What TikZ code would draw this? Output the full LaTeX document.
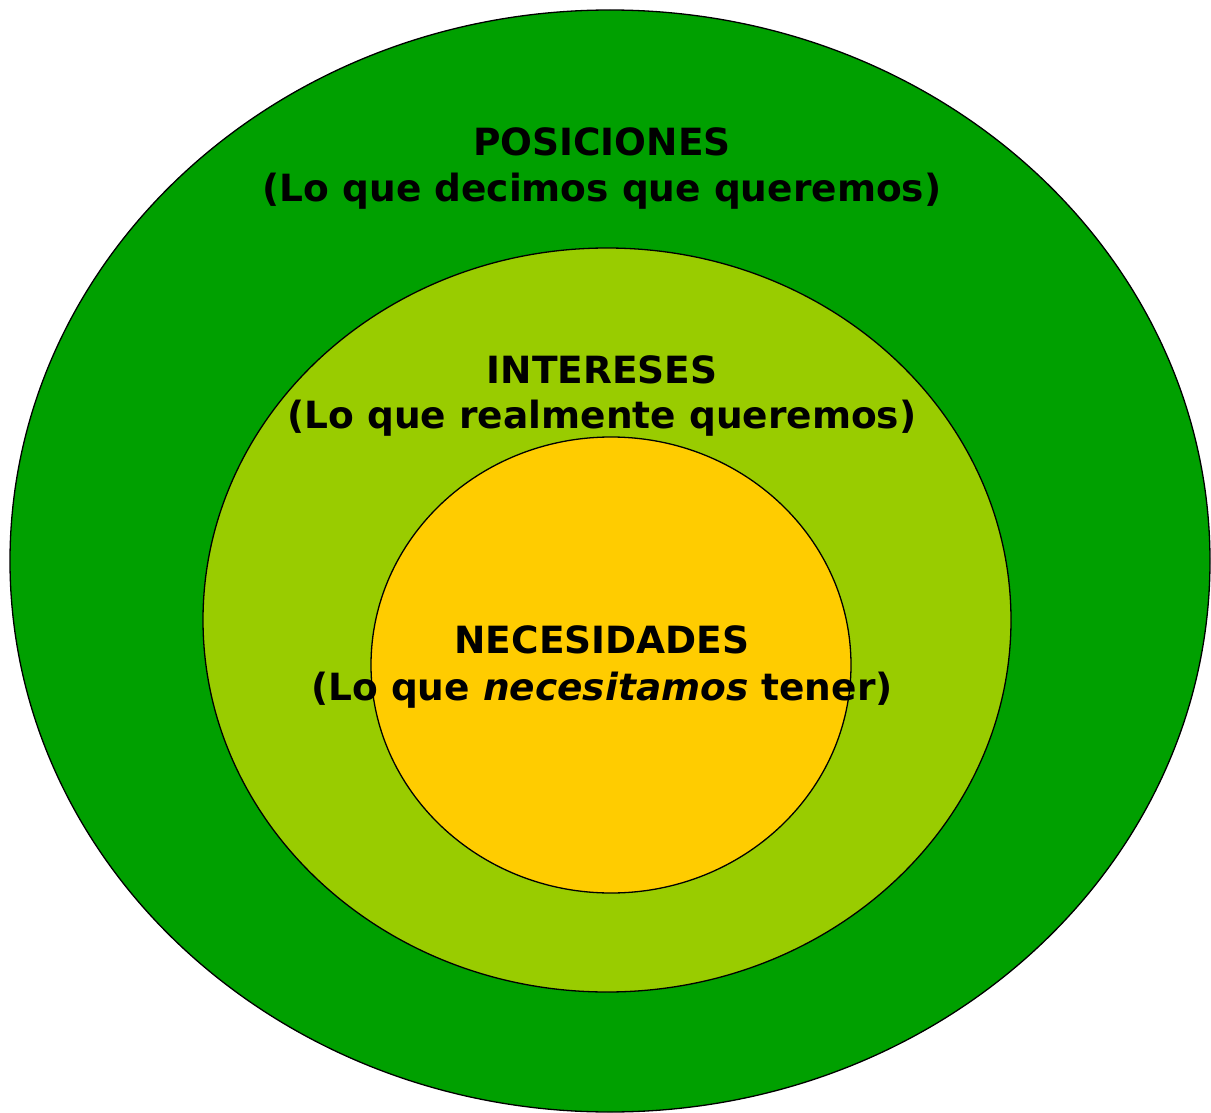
\documentclass[tikz,border=0pt]{standalone}
\usepackage{fontspec}
\setmainfont{DejaVu Sans}
\definecolor{outerg}{HTML}{00A000}
\definecolor{midg}{HTML}{99CC00}
\definecolor{innery}{HTML}{FFCC00}
\begin{document}
\begin{tikzpicture}[x=1pt,y=-1pt,
  lbl/.style={anchor=base,inner sep=0pt,font=\fontsize{37.5}{45}\selectfont\bfseries},
  ring/.style={draw=black,line width=1.3pt}]
\useasboundingbox (0,0) rectangle (1211,1113);
\fill[outerg] (610,561) ellipse [x radius=600,y radius=551];
\draw[ring] (610,561) ellipse [x radius=600,y radius=551];
\fill[midg] (607,620) ellipse [x radius=404,y radius=372];
\draw[ring] (607,620) ellipse [x radius=404,y radius=372];
\fill[innery] (611,665) ellipse [x radius=240,y radius=228];
\node[lbl] (p1) at (602,156) {POSICIONES};
\node[lbl] (p2) at (602,202) {(Lo que decimos que queremos)};
\node[lbl] (i1) at (602,383) {INTERESES};
\node[lbl] (i2) at (602,428) {(Lo que realmente queremos)};
\node[lbl] (n1) at (602,653) {NECESIDADES};
\node[lbl] (n2) at (602,700) {(Lo que \textit{necesitamos} tener)};
\draw[ring] (611,665) ellipse [x radius=240,y radius=228];
\end{tikzpicture}
\end{document}
